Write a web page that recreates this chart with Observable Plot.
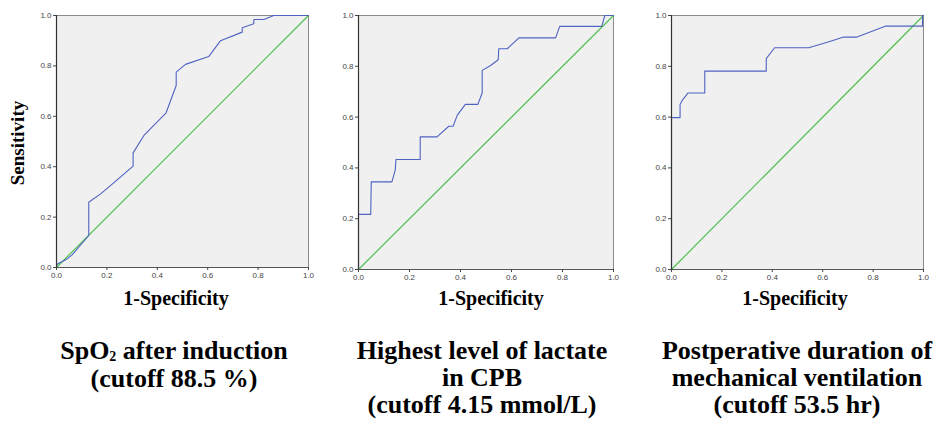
<!DOCTYPE html>
<html><head><meta charset="utf-8">
<script src="https://cdn.jsdelivr.net/npm/d3@7"></script>
<script src="https://cdn.jsdelivr.net/npm/@observablehq/plot@0.6"></script>
<style>
body{margin:0;width:936px;height:425px;background:#fff;position:relative;overflow:hidden;font-family:"Liberation Serif","Times New Roman",serif;}
.p{position:absolute;}
.t{position:absolute;font-weight:bold;text-align:center;white-space:nowrap;transform:translateX(-50%);color:#000;}
.title{font-size:26px;line-height:27px;}
.xl{font-size:20px;line-height:20px;}
.sub{font-size:14px;vertical-align:baseline;position:relative;top:2px;line-height:0;}
</style></head><body>
<div id="p1" class="p" style="left:36px;top:9px"></div>
<div id="p2" class="p" style="left:338px;top:9px"></div>
<div id="p3" class="p" style="left:651px;top:9px"></div>
<div class="t" style="left:18px;top:143px;font-size:19px;line-height:20px;transform:translate(-50%,-50%) rotate(-90deg);">Sensitivity</div>
<div class="t xl" style="left:176px;top:288px">1-Specificity</div>
<div class="t xl" style="left:491px;top:288px">1-Specificity</div>
<div class="t xl" style="left:795px;top:288px">1-Specificity</div>
<div class="t title" style="left:174px;top:337px">SpO<span class="sub">2</span> after induction</div>
<div class="t title" style="left:174px;top:365px">(cutoff 88.5 %)</div>
<div class="t title" style="left:482px;top:337px">Highest level of lactate<br>in CPB<br>(cutoff 4.15 mmol/L)</div>
<div class="t title" style="left:797px;top:337px">Postperative duration of<br>mechanical ventilation<br>(cutoff 53.5 hr)</div>
<script>
// Tick values and labels
const tickValues = [0, 0.2, 0.4, 0.6, 0.8, 1.0];
const tickLabels = ["0.0", "0.2", "0.4", "0.6", "0.8", "1.0"];
// Reference diagonal
const diagX = [0, 1];
const diagY = [0, 1];

// Panel 1: SpO2 after induction
const fpr1 = [0, 0.005, 0.042, 0.062, 0.128, 0.128, 0.175, 0.214, 0.304, 0.304, 0.347, 0.435, 0.475, 0.475, 0.512, 0.604, 0.651, 0.737, 0.737, 0.783, 0.783, 0.823, 0.862, 1.0];
const tpr1 = [0.008, 0.015, 0.034, 0.05, 0.127, 0.259, 0.292, 0.325, 0.402, 0.455, 0.524, 0.614, 0.722, 0.775, 0.806, 0.837, 0.90, 0.934, 0.951, 0.967, 0.984, 0.984, 1.0, 1.0];

// Panel 2: Highest level of lactate in CPB
const fpr2 = [0, 0, 0.048, 0.05, 0.131, 0.144, 0.147, 0.242, 0.242, 0.308, 0.354, 0.371, 0.387, 0.419, 0.468, 0.485, 0.485, 0.518, 0.548, 0.550, 0.583, 0.629, 0.773, 0.789, 0.954, 0.966, 1.0];
const tpr2 = [0, 0.217, 0.217, 0.345, 0.345, 0.391, 0.433, 0.433, 0.522, 0.522, 0.564, 0.564, 0.607, 0.650, 0.650, 0.695, 0.784, 0.803, 0.826, 0.869, 0.869, 0.912, 0.912, 0.957, 0.957, 1.0, 1.0];

// Panel 3: Postoperative duration of mechanical ventilation
const fpr3 = [0, 0, 0.034, 0.034, 0.044, 0.066, 0.132, 0.132, 0.376, 0.376, 0.409, 0.545, 0.631, 0.683, 0.736, 0.848, 0.996, 0.996, 1.0];
const tpr3 = [0, 0.598, 0.598, 0.650, 0.668, 0.695, 0.695, 0.781, 0.781, 0.830, 0.873, 0.873, 0.899, 0.915, 0.915, 0.958, 0.958, 1.0, 1.0];

function roc(fx, ty, w, h) {
  const data = fx.map((x, i) => ({x, y: ty[i]}));
  const diag = diagX.map((x, i) => ({x, y: diagY[i]}));
  const fmt = d => tickLabels[tickValues.findIndex(v => Math.abs(v - d) < 1e-9)];
  return Plot.plot({
    width: w + 30, height: h + 26,
    marginLeft: 20, marginRight: 10, marginTop: 6, marginBottom: 20,
    x: {domain: [0, 1]},
    y: {domain: [0, 1]},
    style: {fontSize: "8px", fontFamily: "'Liberation Sans', Arial, sans-serif", color: "#444", background: "transparent", overflow: "visible"},
    marks: [
      Plot.frame({fill: "#f0f0f0", stroke: "#8a8a8a"}),
      Plot.line(diag, {x: "x", y: "y", stroke: "#4cc04c", strokeWidth: 1.2}),
      Plot.line(data, {x: "x", y: "y", stroke: "#4f63c2", strokeWidth: 1.1}),
      Plot.ruleX([0], {stroke: "#333", strokeWidth: 1.2}),
      Plot.ruleY([0], {stroke: "#555", strokeWidth: 1.2}),
      Plot.axisX({ticks: tickValues, tickFormat: fmt, tickSize: 3, tickPadding: 2, label: null, stroke: "#444"}),
      Plot.axisY({ticks: tickValues, tickFormat: fmt, tickSize: 3, tickPadding: 2, label: null, stroke: "#444"})
    ]
  });
}
document.getElementById("p1").append(roc(fpr1, tpr1, 252, 252));
document.getElementById("p2").append(roc(fpr2, tpr2, 255, 254));
document.getElementById("p3").append(roc(fpr3, tpr3, 252, 254));
</script>
</body></html>
